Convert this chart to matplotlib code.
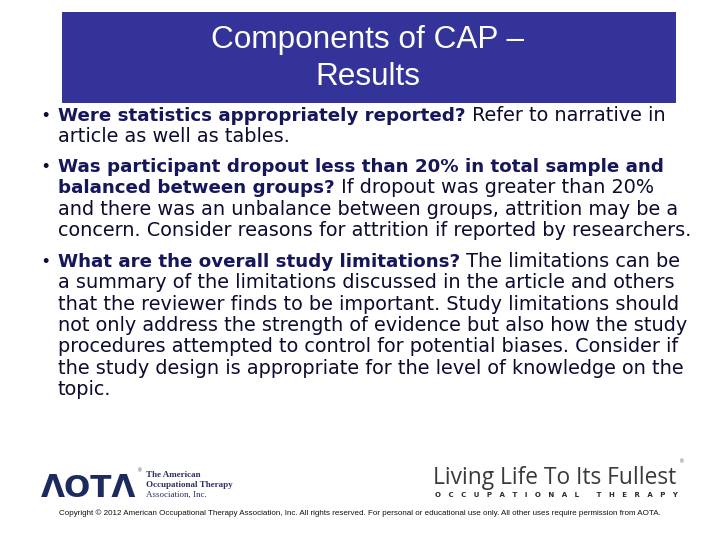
import matplotlib.pyplot as plt
from matplotlib.patches import Rectangle

title_lines = ["Components of CAP \u2013", "Results"]

# each bullet: list of lines, each line = (bold part, regular part)
bullets = [
    [("Were statistics appropriately reported?", " Refer to narrative in"),
     ("", "article as well as tables.")],
    [("Was participant dropout less than 20% in total sample and", ""),
     ("balanced between groups?", " If dropout was greater than 20%"),
     ("", "and there was an unbalance between groups, attrition may be a"),
     ("", "concern. Consider reasons for attrition if reported by researchers.")],
    [("What are the overall study limitations?", " The limitations can be"),
     ("", "a summary of the limitations discussed in the article and others"),
     ("", "that the reviewer finds to be important. Study limitations should"),
     ("", "not only address the strength of evidence but also how the study"),
     ("", "procedures attempted to control for potential biases. Consider if"),
     ("", "the study design is appropriate for the level of knowledge on the"),
     ("", "topic.")],
]
bullet_baselines = [121, 172, 267]
line_step = 21.3

aota_lines = ["The American", "Occupational Therapy", "Association, Inc."]
tagline = "Living Life To Its Fullest"
tagline_words = ["OCCUPATIONAL", "THERAPY"]
copyright_text = ("Copyright \u00a9 2012 American Occupational Therapy Association, Inc. "
                  "All rights reserved. For personal or educational use only. "
                  "All other uses require permission from AOTA.")

bold_color = "#16165a"
text_color = "#0c0c30"
body_font = "DejaVu Sans"
fs = 19.3
fs_bold = 18.3

fig = plt.figure(figsize=(10, 7.5), dpi=72)
ax = fig.add_axes([0, 0, 1, 1])
ax.set_xlim(0, 720)
ax.set_ylim(540, 0)
ax.axis("off")

# title banner
ax.add_patch(Rectangle((62, 12), 613, 90, color="#333399", zorder=0))
ax.text(368, 40, title_lines[0], ha="center", va="center", color="white",
        fontsize=31.5, family="Liberation Sans")
ax.text(368, 77, title_lines[1], ha="center", va="center", color="white",
        fontsize=31.5, family="Liberation Sans")

# body bullets
for lines, y0 in zip(bullets, bullet_baselines):
    ax.text(42, y0, "\u2022", ha="left", va="baseline", fontsize=18,
            family="Liberation Sans", color=text_color)
    for i, (bold, reg) in enumerate(lines):
        y = y0 + i * line_step
        if bold:
            t = ax.text(58, y, bold, ha="left", va="baseline", fontsize=fs_bold,
                        family=body_font, weight="bold", color=bold_color)
            if reg:
                # regular text continues right after the bold part
                ax.annotate(reg, xy=(1, 0), xycoords=t, ha="left", va="bottom",
                            fontsize=fs, family=body_font, color=text_color)
        else:
            ax.text(58, y, reg, ha="left", va="baseline", fontsize=fs,
                    family=body_font, color=text_color)

# AOTA logo
ax.text(41, 497, "\u039bOT\u039b", ha="left", va="baseline", fontsize=31,
        family="DejaVu Sans", weight="bold", color="#1e2a5e")
ax.text(138, 472, "\u00ae", ha="left", va="baseline", fontsize=5,
        family="Liberation Sans", color="#1e2a5e")
for i, s in enumerate(aota_lines):
    ax.text(146, 477 + i * 10, s, ha="left", va="baseline", fontsize=9,
            family="Liberation Serif", weight="bold" if i < 2 else "normal",
            color="#2a3060")

# tagline logo
ax.text(433, 484, tagline, ha="left", va="baseline", fontsize=22.8,
        family="Open Sans", color="#3a3a3a")
ax.text(680, 463, "\u00ae", ha="left", va="baseline", fontsize=5,
        family="Liberation Sans", color="#3a3a3a")
spaced = "       ".join("   ".join(w) for w in tagline_words)
ax.text(556, 497, spaced, ha="center", va="baseline", fontsize=7,
        family="DejaVu Sans", weight="bold", color="#2a2a2a")

# footer
ax.text(360, 515, copyright_text, ha="center", va="baseline", fontsize=8,
        family="Liberation Sans", color="#111111")

fig.savefig("out.png", dpi=72)
